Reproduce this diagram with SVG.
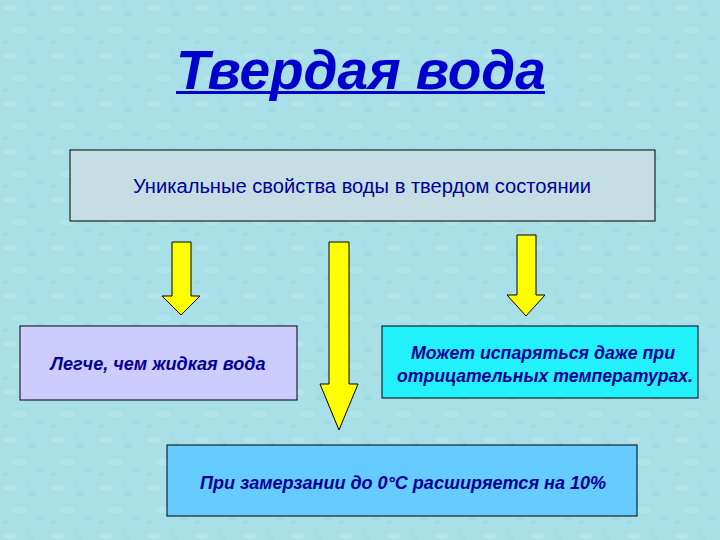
<svg xmlns="http://www.w3.org/2000/svg" width="720" height="540" viewBox="0 0 720 540">
<defs>
<pattern id="bg" width="48" height="48" patternUnits="userSpaceOnUse">
<rect width="48" height="48" fill="#A9DFE7"/>
<ellipse cx="10" cy="8" rx="6" ry="3" fill="#BCE8EE" opacity="0.6"/>
<ellipse cx="32" cy="14" rx="5" ry="3" fill="#98D3DD" opacity="0.5"/>
<ellipse cx="20" cy="30" rx="7" ry="3" fill="#BDE9EF" opacity="0.5"/>
<ellipse cx="40" cy="38" rx="4" ry="2.5" fill="#99D4DE" opacity="0.5"/>
<ellipse cx="6" cy="42" rx="4" ry="2" fill="#9AD4DE" opacity="0.4"/>
<path d="M26 2 l4 10 M29 2 l4 10" stroke="#92CFDA" stroke-width="1" opacity="0.4"/>
</pattern>
<style>
.box{stroke:#000;stroke-width:1}
.arrow{fill:#FFFF00;stroke:#000;stroke-width:1}
.t{font-family:"Liberation Sans",Arial,sans-serif;fill:#000099;text-anchor:middle}
.bi{font-weight:bold;font-style:italic;font-size:18px}
</style>
</defs>
<rect width="720" height="540" fill="url(#bg)"/>
<g id="title">
<text x="361" y="89" class="t" style="font-size:55px;font-weight:bold;font-style:italic;fill:#0000CC">Твердая вода</text>
<rect x="176" y="91" width="369" height="3" fill="#0000CC"/>
</g>
<g id="connectors">
<polygon class="arrow" points="172,242 191,242 191,296 200,296 181,315 162,296 172,296"/>
<polygon class="arrow" points="329,242 349,242 349,384 358,384 339,430 320,384 329,384"/>
<polygon class="arrow" points="517,235 536,235 536,295 545,295 526,316 507,295 517,295"/>
</g>
<g id="top">
<rect class="box" x="70" y="150" width="585" height="71" fill="#C4DEE4"/>
<text x="362" y="193" class="t" style="font-size:20px" textLength="458" lengthAdjust="spacingAndGlyphs">Уникальные свойства воды в твердом состоянии</text>
</g>
<g id="left">
<rect class="box" x="20" y="326" width="277" height="74" fill="#CCCCFF"/>
<text x="158" y="370" class="t bi" textLength="215" lengthAdjust="spacingAndGlyphs">Легче, чем жидкая вода</text>
</g>
<g id="right">
<rect class="box" x="382" y="326" width="316" height="72" fill="#22F0FA"/>
<text x="543" y="359" class="t bi" textLength="264" lengthAdjust="spacingAndGlyphs">Может испаряться даже при</text>
<text x="545" y="382" class="t bi" textLength="296" lengthAdjust="spacingAndGlyphs">отрицательных температурах.</text>
</g>
<g id="bottom">
<rect class="box" x="167" y="445" width="470" height="71" fill="#66CCFF"/>
<text x="403" y="489" class="t bi" textLength="406" lengthAdjust="spacingAndGlyphs">При замерзании до 0°С расширяется на 10%</text>
</g>
</svg>
